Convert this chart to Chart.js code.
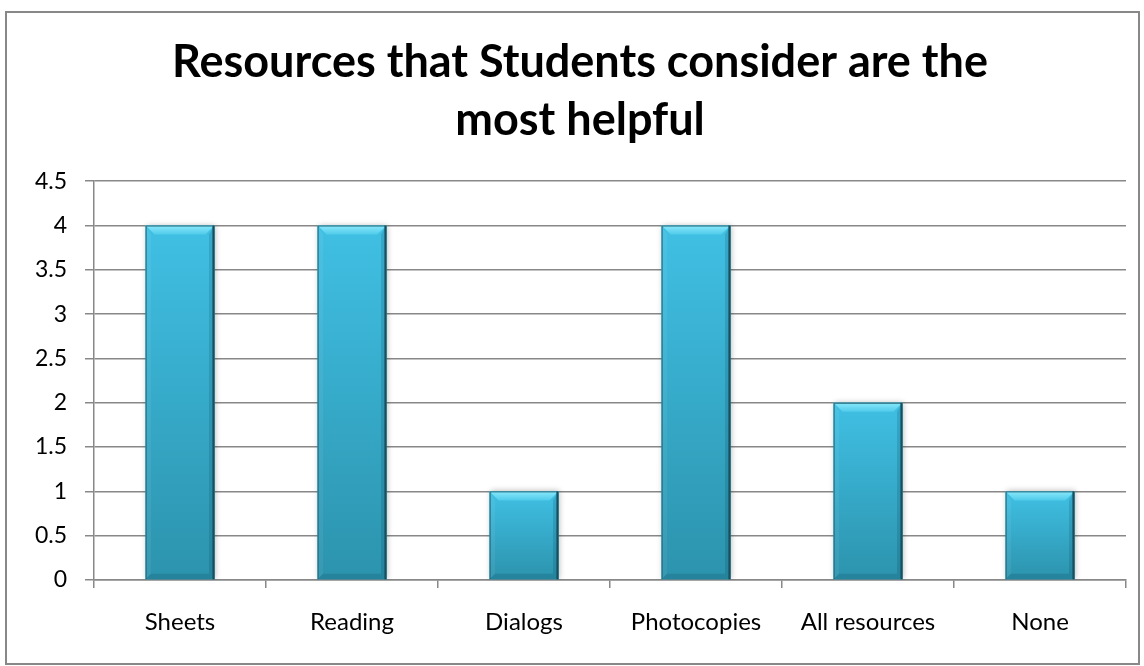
<!DOCTYPE html>
<html>
<head>
<meta charset="utf-8">
<script src="https://cdn.jsdelivr.net/npm/chart.js@4/dist/chart.umd.min.js"></script>
<style>
  html, body { margin: 0; padding: 0; background: #fff; }
  #wrap { position: relative; width: 1144px; height: 666px; }
  #frame { position: absolute; left: 5px; top: 11px; width: 1131px; height: 650px; border: 2px solid #888; box-sizing: content-box; }
  canvas { position: absolute; left: 0; top: 0; }
</style>
</head>
<body>
<div id="wrap">
  <div id="frame"></div>
  <canvas id="c" width="1144" height="666"></canvas>
</div>
<script>
const categories = ["Sheets", "Reading", "Dialogs", "Photocopies", "All resources", "None"];
const values = [4, 4, 1, 4, 2, 1];
const titleLines = ["Resources that Students consider are the", "most helpful"];
const yMin = 0, yMax = 4.5, yStep = 0.5;

const FONT = "Lato, 'Open Sans', sans-serif";

const bevelPlugin = {
  id: 'bevel',
  beforeDatasetsDraw(chart) {
    const ctx = chart.ctx;
    ctx.save();
    ctx.shadowColor = 'rgba(0,0,0,0.30)';
    ctx.shadowBlur = 6;
    ctx.shadowOffsetX = 1;
    ctx.shadowOffsetY = 0;
  },
  afterDatasetsDraw(chart) {
    const ctx = chart.ctx;
    ctx.restore();
    const meta = chart.getDatasetMeta(0);
    meta.data.forEach(bar => {
      const p = bar.getProps(['x', 'y', 'base', 'width'], true);
      const l = p.x - p.width / 2, r = p.x + p.width / 2, t = p.y, b = p.base;
      const bv = 9;
      ctx.save();
      const g = ctx.createLinearGradient(0, t, 0, b);
      g.addColorStop(0, '#40c0e4');
      g.addColorStop(1, '#2c93ad');
      ctx.fillStyle = g;
      ctx.fillRect(l, t, r - l, b - t);
      // top bevel
      ctx.beginPath();
      ctx.moveTo(l, t); ctx.lineTo(r, t); ctx.lineTo(r - bv, t + bv); ctx.lineTo(l + bv, t + bv); ctx.closePath();
      const gt = ctx.createLinearGradient(0, t, 0, t + bv);
      gt.addColorStop(0, '#8ae8fb');
      gt.addColorStop(1, '#4fcbea');
      ctx.fillStyle = gt; ctx.fill();
      // left bevel
      ctx.beginPath();
      ctx.moveTo(l, t); ctx.lineTo(l + bv * 0.6, t + bv); ctx.lineTo(l + bv * 0.6, b - bv * 0.6); ctx.lineTo(l, b); ctx.closePath();
      ctx.fillStyle = 'rgba(255,255,255,0.06)'; ctx.fill();
      // right bevel
      ctx.beginPath();
      ctx.moveTo(r, t); ctx.lineTo(r - bv * 0.6, t + bv); ctx.lineTo(r - bv * 0.6, b - bv * 0.6); ctx.lineTo(r, b); ctx.closePath();
      ctx.fillStyle = 'rgba(0,40,60,0.15)'; ctx.fill();
      // bottom bevel
      ctx.beginPath();
      ctx.moveTo(l, b); ctx.lineTo(r, b); ctx.lineTo(r - bv * 0.6, b - bv * 0.6); ctx.lineTo(l + bv * 0.6, b - bv * 0.6); ctx.closePath();
      ctx.fillStyle = 'rgba(0,40,60,0.15)'; ctx.fill();
      // outline
      ctx.strokeStyle = '#1f6577';
      ctx.lineWidth = 1;
      ctx.beginPath();
      ctx.moveTo(l + 0.5, b); ctx.lineTo(l + 0.5, t + 0.5); ctx.lineTo(r - 0.5, t + 0.5); ctx.lineTo(r - 0.5, b);
      ctx.stroke();
      ctx.strokeStyle = '#16505e';
      ctx.lineWidth = 2;
      ctx.beginPath(); ctx.moveTo(r - 1, t); ctx.lineTo(r - 1, b); ctx.stroke();
      ctx.restore();
    });
  }
};

new Chart(document.getElementById('c'), {
  type: 'bar',
  data: {
    labels: categories,
    datasets: [{
      data: values,
      backgroundColor: '#3ab4d6',
      borderWidth: 0,
      barPercentage: 0.4,
      categoryPercentage: 1.0
    }]
  },
  options: {
    responsive: false,
    animation: false,
    layout: { padding: { left: 34, right: 18, top: 0, bottom: 0 } },
    plugins: {
      legend: { display: false },
      tooltip: { enabled: false },
      title: {
        display: true,
        text: titleLines,
        color: '#000',
        font: { family: FONT, size: 45, weight: 'bold', lineHeight: 1.28 },
        padding: { top: 34, bottom: 32 }
      }
    },
    scales: {
      x: {
        grid: { display: true, drawOnChartArea: false, drawTicks: true, tickLength: 8, color: '#888', lineWidth: 1.5, offset: true },
        border: { display: true, color: '#888', width: 1.5 },
        ticks: { color: '#000', font: { family: FONT, size: 24 }, padding: 20, maxRotation: 0, autoSkip: false },
        afterFit(scale) { scale.height = 86; }
      },
      y: {
        min: yMin, max: yMax,
        grid: { color: '#888', lineWidth: 1.5, tickLength: 9, drawTicks: true },
        border: { display: true, color: '#888', width: 1.5 },
        ticks: { stepSize: yStep, color: '#000', font: { family: FONT, size: 23 }, padding: 18,
                 callback: v => String(v) },
        afterFit(scale) { scale.width = 60; }
      }
    }
  },
  plugins: [bevelPlugin]
});
</script>
</body>
</html>
